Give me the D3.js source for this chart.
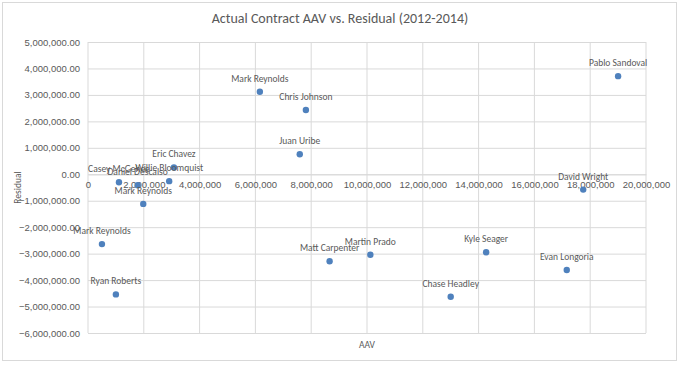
<!DOCTYPE html>
<html>
<head>
<meta charset="utf-8">
<script src="https://cdn.jsdelivr.net/npm/d3@7"></script>
<style>
	html, body { margin: 0; padding: 0; background: #fff; }
	svg { display: block; font-family: Carlito, Lato, "Open Sans", sans-serif; }
	.tick text { fill: #595959; }
</style>
</head>
<body>
<div id="chart"></div>
<script>
/* Datos */
const players = ["Pablo Sandoval", "David Wright", "Mark Reynolds", "Chris Johnson", "Juan Uribe",
	"Casey McGehee", "Daniel Descalso", "Mark Reynolds", "Willie Bloomquist", "Eric Chavez",
	"Mark Reynolds", "Ryan Roberts", "Matt Carpenter", "Martin Prado", "Kyle Seager",
	"Evan Longoria", "Chase Headley"];
const aav = [19000000, 17750000, 6160000, 7810000, 7590000,
	1110000, 1780000, 1980000, 2910000, 3080000,
	500000, 1000000, 8660000, 10120000, 14270000,
	17160000, 13000000];
const residual = [3710000, -580000, 3120000, 2430000, 755000,
	-300000, -415000, -1120000, -260000, 260000,
	-2640000, -4540000, -3290000, -3040000, -2950000,
	-3620000, -4630000];
const xTicks = d3.range(0, 20000001, 2000000);
const yTicks = d3.range(-6000000, 5000001, 1000000);

const W = 680, H = 365;
const M = { top: 42, right: 34, bottom: 32, left: 88 };
const TEXT = "#595959", GRID = "#d9d9d9";

const svg = d3.select("#chart").append("svg").attr("width", W).attr("height", H);

// borde del area del grafico
svg.append("rect")
	.attr("x", 2.5).attr("y", 2.5).attr("width", W - 6).attr("height", H - 7)
	.attr("fill", "#fff").attr("stroke", GRID);

const x = d3.scaleLinear().domain([0, 20000000]).range([M.left, W - M.right]);
const y = d3.scaleLinear().domain([-6000000, 5000000]).range([H - M.bottom, M.top]);

// rejilla horizontal + etiquetas Y
const gy = svg.append("g")
	.attr("transform", `translate(${M.left},0)`)
	.call(d3.axisLeft(y).tickValues(yTicks).tickFormat(d3.format(",.2f")).tickSize(-(x.range()[1] - M.left)).tickPadding(8));
gy.select(".domain").remove();
gy.selectAll(".tick line").attr("stroke", GRID);
gy.selectAll(".tick text").attr("font-size", 9.5);

// rejilla vertical
svg.append("g").selectAll("line").data(xTicks).join("line")
	.attr("x1", d => x(d)).attr("x2", d => x(d))
	.attr("y1", M.top).attr("y2", H - M.bottom)
	.attr("stroke", GRID);

// eje X cruzando en y = 0
const gx = svg.append("g")
	.attr("transform", `translate(0,${y(0)})`)
	.call(d3.axisBottom(x).tickValues(xTicks).tickFormat(d => d === 0 ? "0" : d3.format(",")(d)).tickSize(0).tickPadding(7));
gx.select(".domain").attr("stroke", GRID);
gx.selectAll(".tick text").attr("font-size", 9.5);

// puntos
svg.append("g").selectAll("circle").data(players).join("circle")
	.attr("cx", (d, i) => x(aav[i]))
	.attr("cy", (d, i) => y(residual[i]))
	.attr("r", 3.2)
	.attr("fill", "#4f81bd");

// etiquetas de datos (arriba)
svg.append("g").selectAll("text").data(players).join("text")
	.attr("x", (d, i) => x(aav[i]))
	.attr("y", (d, i) => y(residual[i]) - 10)
	.attr("text-anchor", "middle")
	.attr("font-size", 9.5)
	.attr("fill", TEXT)
	.text(d => d);

// titulos
svg.append("text")
	.attr("x", W / 2).attr("y", 23)
	.attr("text-anchor", "middle")
	.attr("font-size", 14)
	.attr("fill", TEXT)
	.text("Actual Contract AAV vs. Residual (2012-2014)");

svg.append("text")
	.attr("x", (M.left + W - M.right) / 2).attr("y", 348)
	.attr("text-anchor", "middle")
	.attr("font-size", 9.5)
	.attr("fill", TEXT)
	.text("AAV");

svg.append("text")
	.attr("transform", `translate(21,${(M.top + H - M.bottom) / 2}) rotate(-90)`)
	.attr("text-anchor", "middle")
	.attr("font-size", 9.5)
	.attr("fill", TEXT)
	.text("Residual");
</script>
</body>
</html>
